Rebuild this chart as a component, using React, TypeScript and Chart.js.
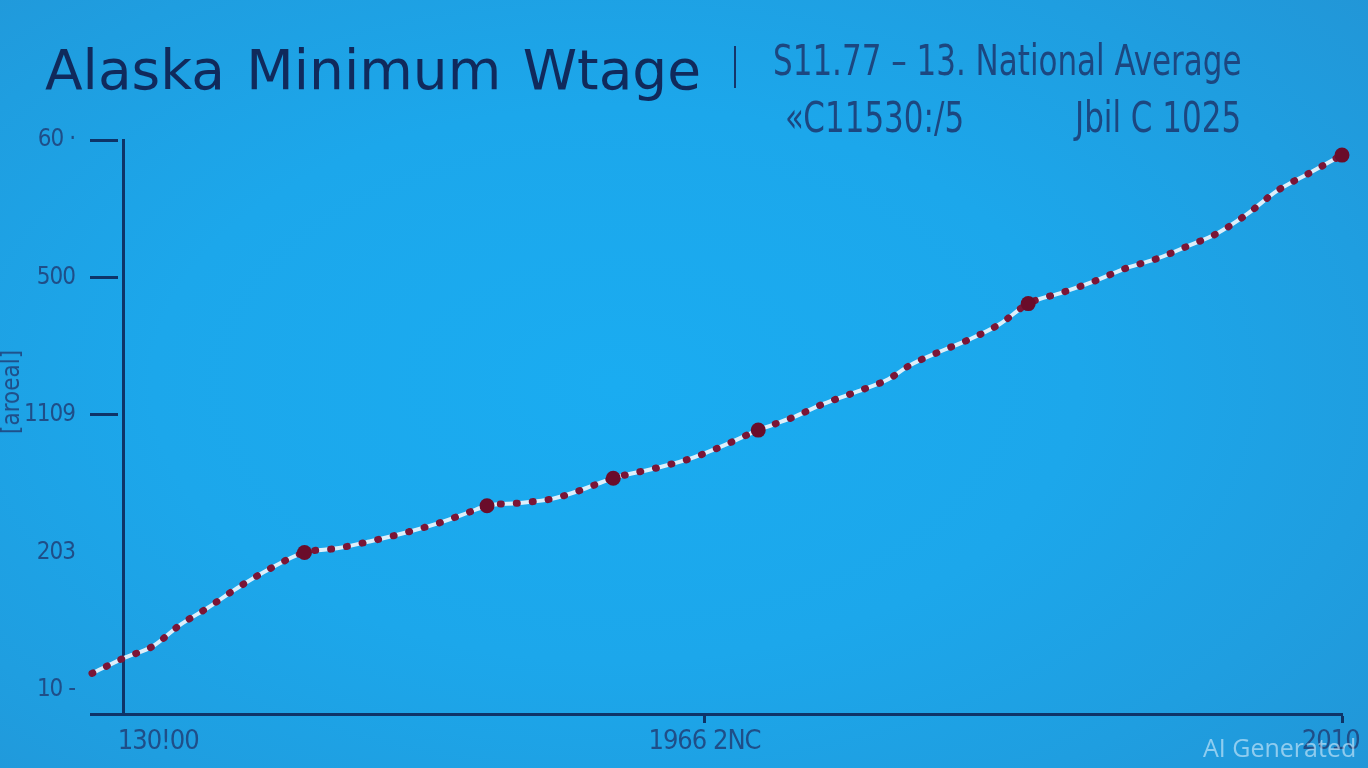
import React, { useEffect, useRef } from "react";
import { Chart, registerables } from "chart.js";

Chart.register(...registerables);

// ---- data ----
const lineX = [0, 2.5, 4.9, 7.0, 9.3, 11.6, 14.2, 17.0, 19.6, 22.2, 24.9, 27.6, 30.1, 31.6, 34.2, 36.8, 39.0, 41.7, 45.4, 48.1, 50.6, 53.3, 56.0, 58.5, 61.2, 63.7, 65.4, 67.8, 70.2, 72.6, 74.9, 77.6, 80.1, 82.8, 85.3, 87.7, 90.0, 92.4, 94.8, 97.4, 100];
const lineY = [0.12, 0.23, 0.32, 0.47, 0.6, 0.74, 0.88, 1.0, 1.03, 1.08, 1.14, 1.21, 1.29, 1.34, 1.36, 1.39, 1.45, 1.54, 1.62, 1.69, 1.78, 1.89, 1.98, 2.08, 2.17, 2.26, 2.36, 2.46, 2.55, 2.66, 2.81, 2.89, 2.97, 3.07, 3.14, 3.23, 3.32, 3.46, 3.63, 3.76, 3.89];
const markerX = [17.0, 31.6, 41.7, 53.3, 74.9, 100];
const markerY = [1.0, 1.34, 1.54, 1.89, 2.81, 3.89];

const xMin = 2.48;
const xMax = 100;
const xTickValues = [5.3, 49.0, 99.1, 100];
const xTickLabels = ["130!00", "1966 2NC", "2010", ""];
const xTickShown = [false, true, false, true];

const yMin = -0.175;
const yMax = 4;
const yTickValues = [-0.175, 0, 1, 2, 3, 4];
const yTickLabels = ["", "10 -", "203", "1109", "500", "60 ·"];
const yTickShown = [true, false, false, true, true, true];

const titleText = "Alaska Minimum Wtage";
const subLine1 = "S11.77 – 13. National Average";
const subLine2a = "«C11530:/5";
const subLine2b = "Jbil C 1025";
const yAxisTitle = "[aroeal]";
const watermark = "AI Generated";

const NAVY = "#0e3468";
const LABEL = "#1f4e88";
const NARROW = "'Liberation Sans Narrow', 'DejaVu Sans Condensed', 'Roboto', sans-serif";

const setSpacing = (chart: any) => {
  try {
    chart.ctx.letterSpacing = "-1px";
  } catch (e) {}
};
const tightText = {
  id: "tightText",
  beforeUpdate: setSpacing,
  beforeLayout: setSpacing,
  beforeDraw: setSpacing,
};

export default function App() {
  const canvasRef = useRef<HTMLCanvasElement | null>(null);

  useEffect(() => {
    const canvas = canvasRef.current;
    if (!canvas) return;
    const chart = new Chart(canvas, {
      type: "line",
      plugins: [tightText],
      data: {
        datasets: [
          {
            label: "markers",
            data: markerX.map((x, i) => ({ x, y: markerY[i] })),
            showLine: false,
            pointRadius: 7.5,
            pointBackgroundColor: "#6a0c2a",
            pointBorderWidth: 0,
            clip: false as any,
            order: 0,
          },
          {
            label: "dash",
            data: lineX.map((x, i) => ({ x, y: lineY[i] })),
            borderColor: "#7a1536",
            borderWidth: 7,
            borderDash: [1, 15],
            borderCapStyle: "round",
            pointRadius: 0,
            cubicInterpolationMode: "monotone",
            clip: false as any,
            order: 1,
          },
          {
            label: "base",
            data: lineX.map((x, i) => ({ x, y: lineY[i] })),
            borderColor: "rgba(232,242,252,0.95)",
            borderWidth: 4,
            pointRadius: 0,
            cubicInterpolationMode: "monotone",
            clip: false as any,
            order: 2,
          },
        ],
      },
      options: {
        responsive: false,
        animation: false,
        layout: { padding: { top: 140, right: 26, bottom: 0, left: 0 } },
        plugins: {
          legend: { display: false },
          tooltip: { enabled: false },
          title: { display: false },
        },
        scales: {
          x: {
            type: "linear",
            min: xMin,
            max: xMax,
            afterBuildTicks: (scale: any) => {
              scale.ticks = xTickValues.map((v) => ({ value: v }));
            },
            afterFit: (scale: any) => {
              scale.height = 54;
            },
            ticks: {
              autoSkip: false,
              maxRotation: 0,
              padding: 3,
              color: LABEL,
              font: { family: NARROW, size: 27 },
              callback: (_v: any, i: number) => xTickLabels[i],
            },
            grid: {
              drawOnChartArea: false,
              drawTicks: true,
              tickLength: 9,
              tickWidth: 3,
              tickColor: (ctx: any) => (xTickShown[ctx.index] ? NAVY : "rgba(0,0,0,0)"),
            },
            border: { display: true, color: NAVY, width: 3 },
          },
          y: {
            type: "linear",
            min: yMin,
            max: yMax,
            afterBuildTicks: (scale: any) => {
              scale.ticks = yTickValues.map((v) => ({ value: v }));
            },
            afterFit: (scale: any) => {
              scale.width = 123;
            },
            ticks: {
              autoSkip: false,
              padding: 15,
              color: LABEL,
              font: { family: NARROW, size: 24 },
              callback: (_v: any, i: number) => yTickLabels[i],
            },
            grid: {
              drawOnChartArea: false,
              drawTicks: true,
              tickLength: 33,
              tickWidth: 3,
              tickColor: (ctx: any) => (yTickShown[ctx.index] ? NAVY : "rgba(0,0,0,0)"),
              tickBorderDash: (ctx: any) => (ctx.index === 0 ? [] : [28, 40]),
            },
            border: { display: true, color: NAVY, width: 3 },
          },
        },
      } as any,
    });
    return () => chart.destroy();
  }, []);

  const abs: React.CSSProperties = { position: "absolute", whiteSpace: "nowrap", lineHeight: 1, margin: 0 };
  const sub: React.CSSProperties = {
    ...abs,
    fontFamily: NARROW,
    fontSize: 42,
    color: "#1c4780",
    transform: "scaleX(0.82)",
    transformOrigin: "0 0",
  };

  return (
    <div
      style={{
        position: "fixed",
        left: 0,
        top: 0,
        width: 1368,
        height: 768,
        overflow: "hidden",
        background:
          "radial-gradient(ellipse 75% 80% at 45% 50%, #1aacf1 0%, #1ca7eb 45%, #1f9ee0 75%, #2295d6 100%)",
      }}
    >
      <canvas ref={canvasRef} width={1368} height={768} style={{ position: "absolute", left: 0, top: 0, display: "block" }} />
      <div style={{ ...abs, left: 45, top: 43, fontFamily: "'DejaVu Sans', sans-serif", fontSize: 55, color: "#102a5c", wordSpacing: 4 }}>
        {titleText}
      </div>
      <div style={{ position: "absolute", left: 734, top: 46, width: 2, height: 42, background: "#15356a" }} />
      <div style={{ ...sub, left: 773, top: 40 }}>{subLine1}</div>
      <div style={{ ...sub, left: 785, top: 97 }}>{subLine2a}</div>
      <div style={{ ...sub, left: 1075, top: 97 }}>{subLine2b}</div>
      <div
        style={{
          ...abs,
          left: 11,
          top: 392,
          transform: "translate(-50%, -50%) rotate(-90deg)",
          fontFamily: NARROW,
          fontSize: 24,
          color: LABEL,
        }}
      >
        {yAxisTitle}
      </div>
      <div
        style={{
          ...abs,
          left: 1203,
          top: 735,
          fontFamily: "'Open Sans', sans-serif",
          fontSize: 25,
          color: "rgba(235,245,255,0.55)",
        }}
      >
        {watermark}
      </div>
    </div>
  );
}
